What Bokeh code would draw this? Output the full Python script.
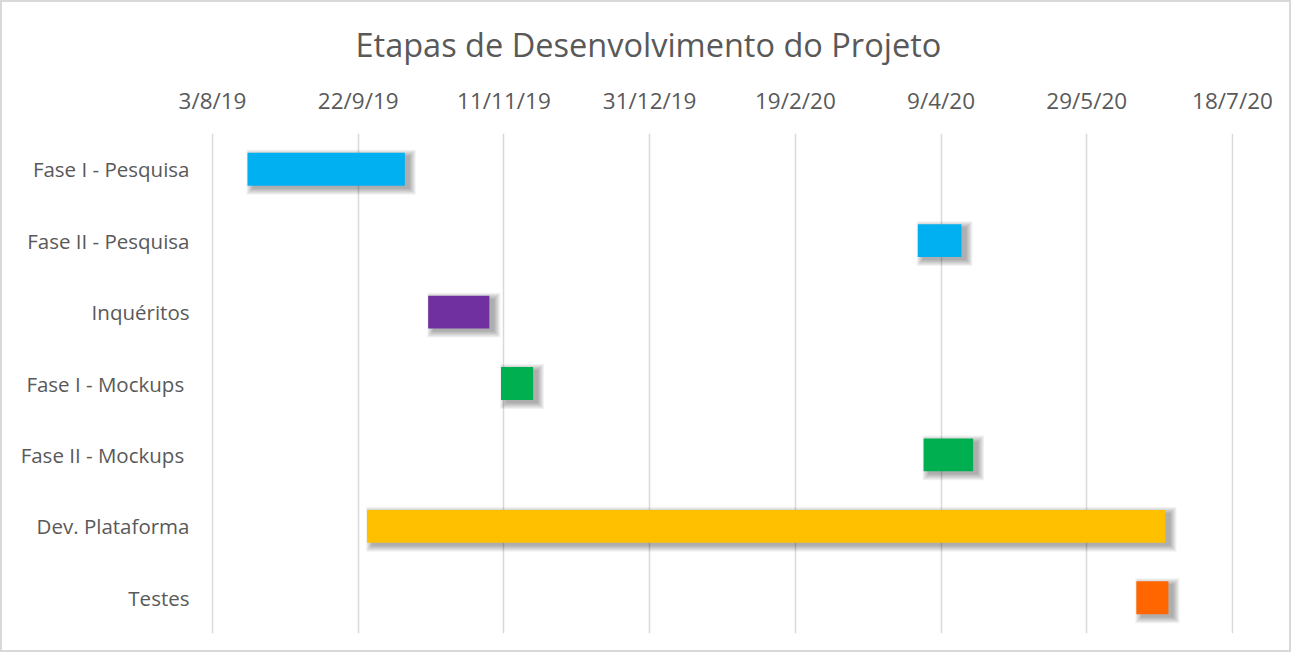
from datetime import datetime
from bokeh.plotting import figure
from bokeh.models import FactorRange, Range1d, FixedTicker, ColumnDataSource
from bokeh.transform import dodge
from bokeh.embed import file_html
from bokeh.resources import INLINE

# ---- data ----
tasks = ["Fase I - Pesquisa", "Fase II - Pesquisa", "Inquéritos", "Fase I - Mockups ",
         "Fase II - Mockups ", "Dev. Plataforma", "Testes"]
starts = ["2019-08-15", "2020-04-01", "2019-10-16", "2019-11-10", "2020-04-03", "2019-09-25", "2020-06-15"]
ends = ["2019-10-08", "2020-04-16", "2019-11-06", "2019-11-21", "2020-04-20", "2020-06-25", "2020-06-26"]
colors = ["#00B0F0", "#00B0F0", "#7030A0", "#00B050", "#00B050", "#FFC000", "#FF6600"]
tick_dates = ["2019-08-03", "2019-09-22", "2019-11-11", "2019-12-31",
              "2020-02-19", "2020-04-09", "2020-05-29", "2020-07-18"]
tick_labels = ["3/8/19", "22/9/19", "11/11/19", "31/12/19", "19/2/20", "9/4/20", "29/5/20", "18/7/20"]
title_text = "Etapas de Desenvolvimento do Projeto"


def ms(s):
    return int((datetime.fromisoformat(s) - datetime(1970, 1, 1)).total_seconds() * 1000)


start_ms = [ms(s) for s in starts]
end_ms = [ms(s) for s in ends]
tick_ms = [ms(s) for s in tick_dates]

INNER_W = 1020                      # pixels between first and last tick
PAD = 1                             # pixel padding so edge grid lines show
FRAME_W, FRAME_H = INNER_W + 2 * PAD, 500
W, H = 1291, 652
BL, BT = 210 - PAD, 131

px = (tick_ms[-1] - tick_ms[0]) / INNER_W   # ms per pixel
x0, x1 = tick_ms[0] - PAD * px, tick_ms[-1] + PAD * px

p = figure(width=W, height=H, x_axis_type="datetime", x_axis_location="above",
           x_range=Range1d(x0, x1),
           y_range=FactorRange(factors=list(reversed(tasks)), range_padding=0),
           output_backend="svg", toolbar_location=None,
           min_border_left=BL, min_border_right=W - BL - FRAME_W,
           min_border_top=BT, min_border_bottom=H - BT - FRAME_H)
p.styles = {"border": "2px solid #D9D9D9"}
p.outline_line_color = None
p.background_fill_color = "white"
p.border_fill_color = "white"

# title
p.title.text = title_text
p.title.text_font = "Open Sans"
p.title.text_font_size = "32.5px"
p.title.text_font_style = "normal"
p.title.text_color = "#595959"
p.title.align = "left"
p.title.offset = 144
p.title.standoff = 29

# x axis
p.xaxis.ticker = FixedTicker(ticks=tick_ms)
p.xaxis.major_label_overrides = dict(zip(tick_ms, tick_labels))
p.xaxis.major_label_text_font = "Open Sans"
p.xaxis.major_label_text_font_size = "22.5px"
p.xaxis.major_label_text_color = "#595959"
p.xaxis.axis_line_color = None
p.xaxis.major_tick_line_color = None
p.xaxis.minor_tick_line_color = None
p.xaxis.major_tick_out = 0
p.xaxis.minor_tick_out = 0
p.xaxis.major_label_standoff = 18

# y axis
p.yaxis.major_label_text_font = "Open Sans"
p.yaxis.major_label_text_font_size = "20.5px"
p.yaxis.major_label_text_color = "#595959"
p.yaxis.axis_line_color = None
p.yaxis.major_tick_line_color = None
p.yaxis.minor_tick_line_color = None
p.yaxis.major_tick_out = 0
p.yaxis.minor_tick_out = 0
p.yaxis.major_label_standoff = 22

p.xgrid.grid_line_color = "#D9D9D9"
p.xgrid.grid_line_width = 1.5
p.ygrid.grid_line_color = None

# shadows (blurred, offset down-right)
py = len(tasks) / FRAME_H           # category units per pixel
BAR_H = 0.46
DX, DY = 5, 3
for e in [0, 1, 2, 3, 4, 5, 6]:
    src = ColumnDataSource(dict(
        task=tasks,
        left=[s + (DX - e) * px for s in start_ms],
        right=[r + (DX + e) * px for r in end_ms],
    ))
    p.hbar(y=dodge("task", -DY * py, range=p.y_range), left="left", right="right",
           height=BAR_H + 2 * e * py, source=src, fill_color="black", fill_alpha=0.05,
           line_color=None)

src = ColumnDataSource(dict(task=tasks, start=start_ms, end=end_ms, color=colors))
p.hbar(y="task", left="start", right="end", height=BAR_H, source=src,
       fill_color="color", line_color=None)

open("out.html", "w").write(file_html(p, INLINE))
